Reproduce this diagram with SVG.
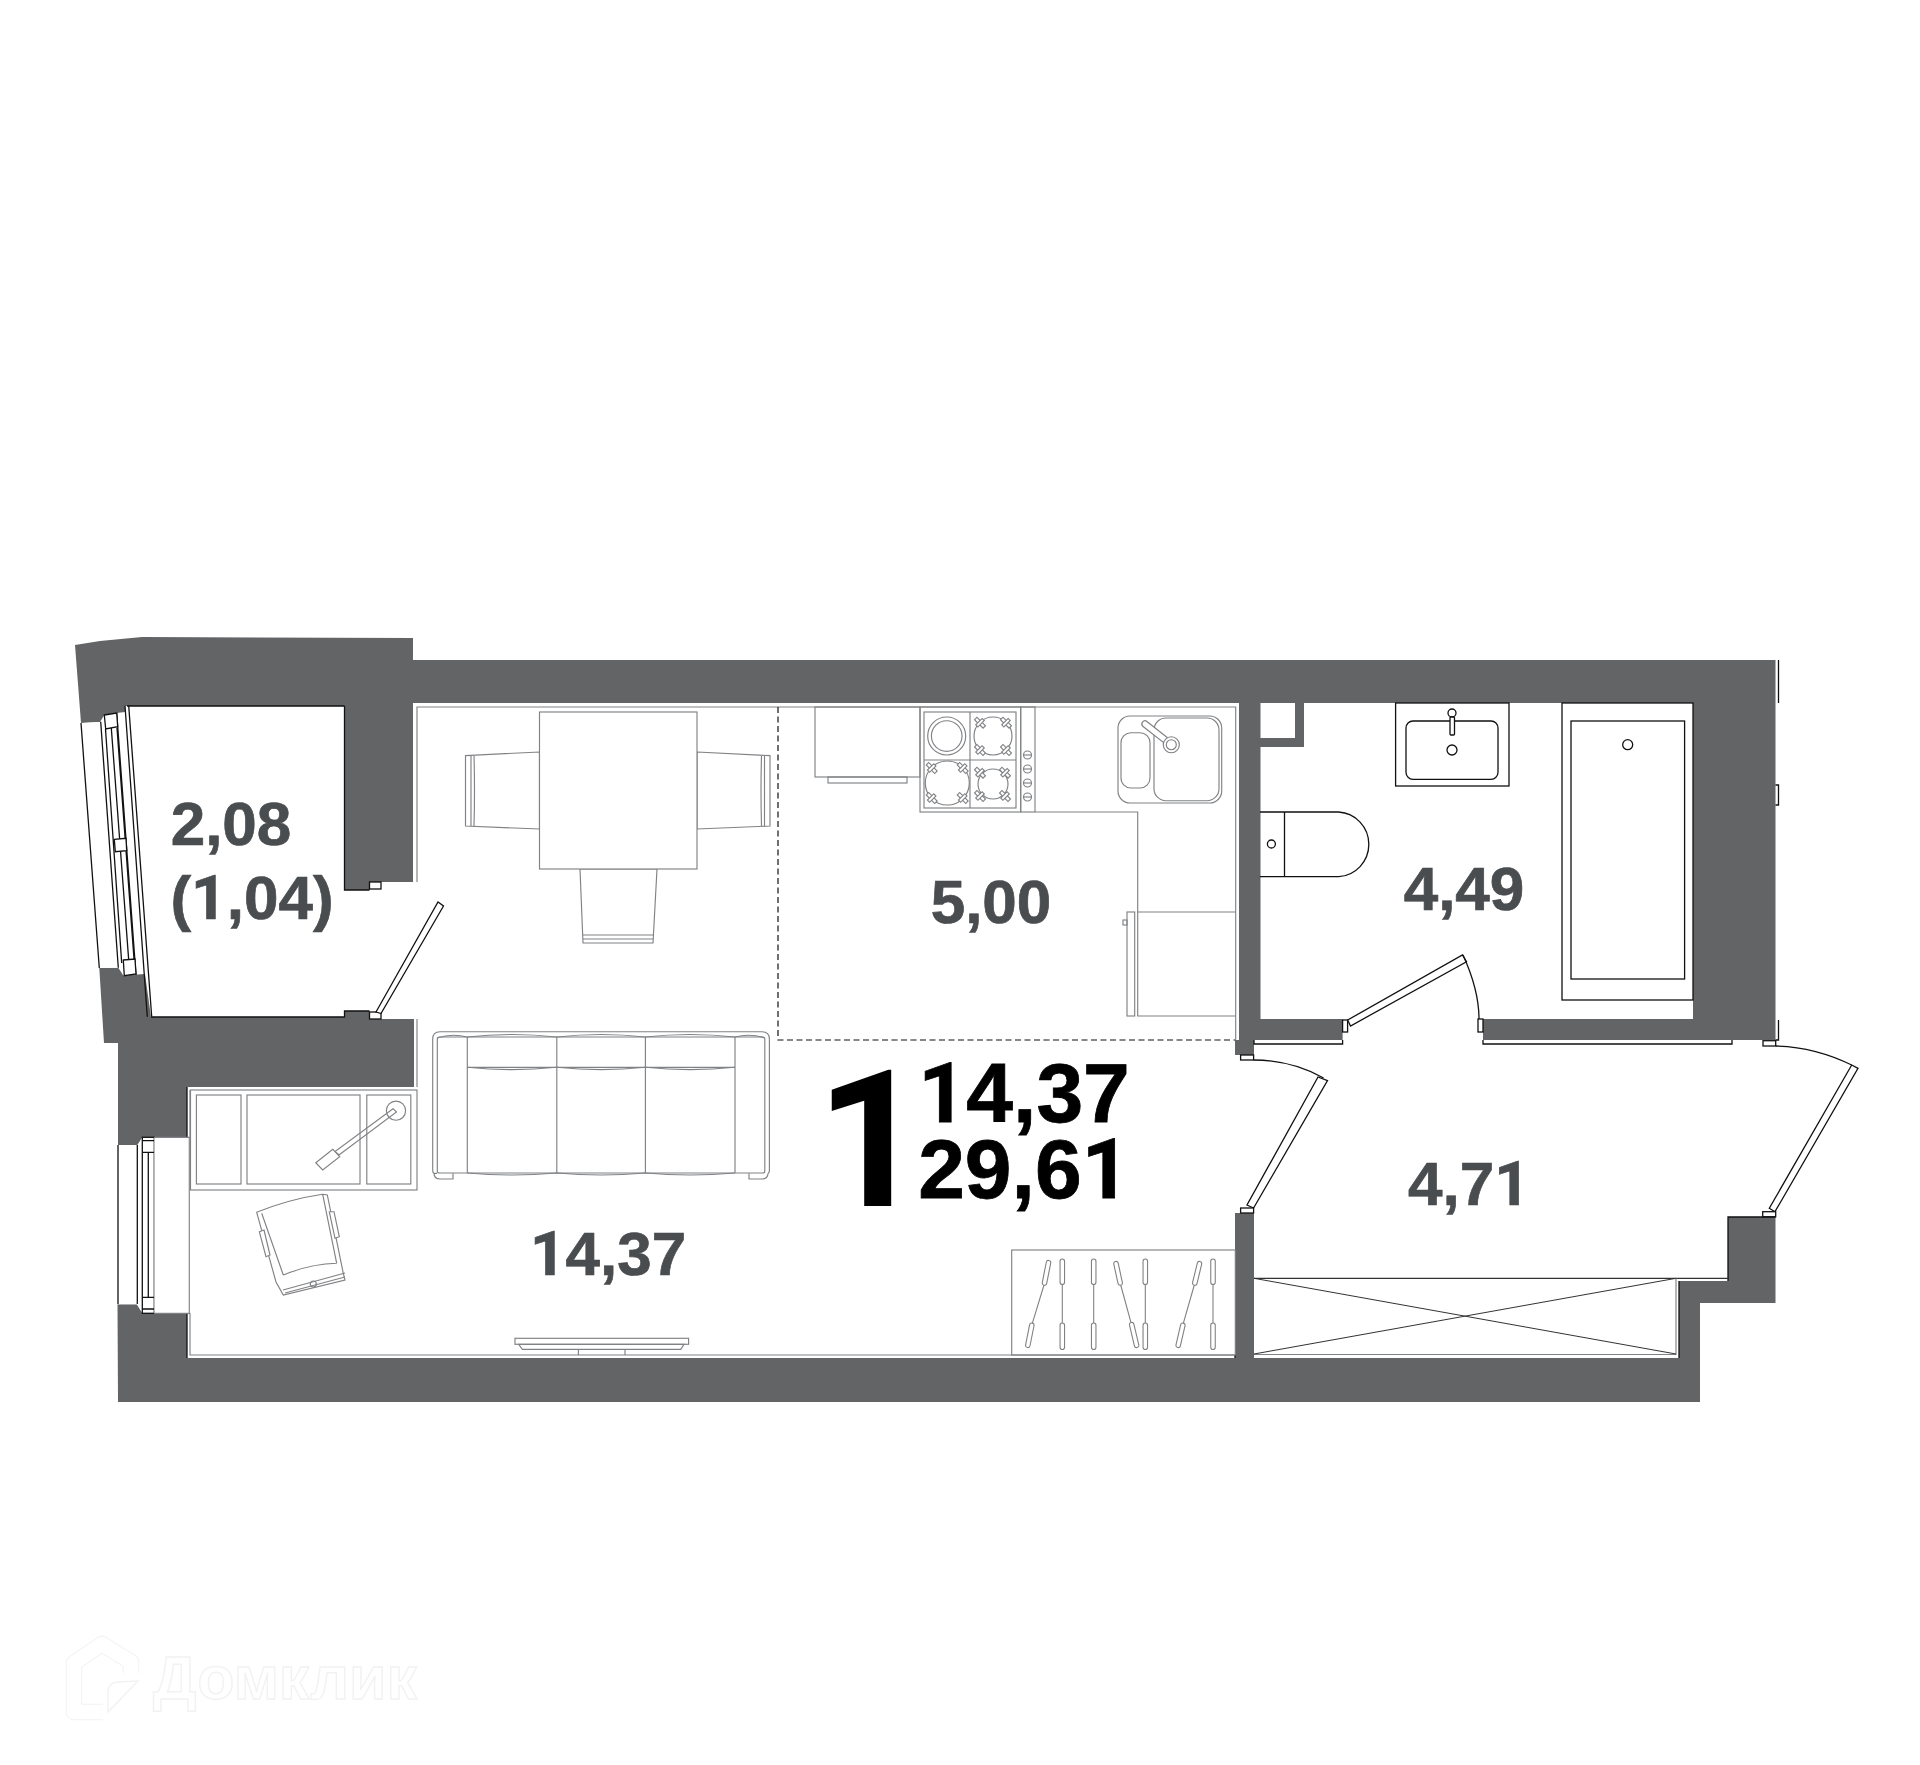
<svg xmlns="http://www.w3.org/2000/svg" width="1920" height="1765" viewBox="0 0 1920 1765">
<style>
.wall{fill:#636466;stroke:none}
.k{fill:none;stroke:#111;stroke-width:1.3}
.kw{fill:#fff;stroke:#111;stroke-width:1.3}
.g{fill:none;stroke:#808285;stroke-width:1.15}
.gw{fill:#fff;stroke:#808285;stroke-width:1.15}
.dash{fill:none;stroke:#111;stroke-width:1.2;stroke-dasharray:6 3.5}
.ho{fill:none;stroke:#808285;stroke-width:5.6;stroke-linecap:round}
.hi{fill:none;stroke:#fff;stroke-width:3.4;stroke-linecap:round}
.hl{fill:none;stroke:#808285;stroke-width:1.1}
text{font-family:"Liberation Sans",Arial,sans-serif;font-weight:700;text-anchor:middle}
.r{font-family:Roboto,"Liberation Sans",sans-serif}
.room{font-size:62px;fill:#4a4d4f;stroke:#4a4d4f;stroke-width:.7}
.sum{font-size:84px;fill:#000;stroke:#000;stroke-width:.8}
.wm{fill:#fff;stroke:#f2f2f2;stroke-width:1.4}
</style>
<defs>
<g id="x" class="g"><rect x="-6" y="-1.7" width="12" height="3.4" transform="rotate(45)" fill="#fff"/><rect x="-4.5" y="-1.5" width="9" height="3" transform="rotate(-45)" fill="#fff"/></g>
<g id="knob"><circle r="4" class="g"/><path d="M-4 0H4" class="g"/></g>
</defs>
<rect width="1920" height="1765" fill="#fff"/>

<g id="walls">
<polygon class="wall" points="75,645 100,641 142,637 413,638 413,660 1775.5,660 1775.5,1040 1483,1040 1483,1019 1693,1019 1693,703 1304,703 1304,747 1260.5,747 1260.5,1019 1342.6,1019 1342.6,1040 1254,1040 1254,1055 1235,1055 1235,1040 1239,1040 1239,703 413,703 413,882 369.5,882 369.5,890 344.5,890 344.5,706 125,706 125,712 116.7,713 104.3,715 100,722 81,723"/>
<polygon class="wall" points="99.3,968 118.3,967.7 123.3,975.5 145,974 151,1017 344.5,1017 344.5,1011 369.5,1011 369.5,1019 414,1019 414,1087 187,1087 187,1137.3 142.3,1137.3 137.3,1145 118,1145 118,1043 104,1043"/>
<polygon class="wall" points="117.5,1304.3 136.7,1304.3 142.3,1313.3 187,1313.3 187,1358 1235,1358 1235,1213 1254,1213 1254,1358 1679,1358 1679,1281 1728,1281 1728,1217 1775.5,1217 1775.5,1303 1700,1303 1700,1402 118,1402"/>
<rect x="1260.5" y="703" width="34.5" height="35" fill="#fff"/>
</g>

<g id="wall-lines">
<path class="k" d="M344.5 706H127M344.5 706V890H369.5M151 1017H344.5V1011H369.5"/>
<path class="g" d="M417 882V707H1235.7V1040M417 1019V1087M190 1090V1137M190 1313V1355H1235"/>
<path class="k" d="M187 1087V1137M187 1313V1358M1235 1355V1358"/>
<path class="k" d="M1254 1040V1044H1342.6V1040M1483 1040V1044H1732V1040M1778.5 660V703M1775.5 785H1778.5V805H1775.5M1778.5 1020V1040H1775.5M1728 1281V1217H1775.5M1679 1358V1281"/>
</g>

<g id="balcony-window">
<polygon points="81,723 100,722 118.3,967.7 99.3,968" fill="#fff"/>
<path class="k" d="M81 723L99.3 968M100.7 721.7L118.3 967.7M105.5 729L121.7 963M111.3 728L128.7 960M117 728L134 959M116.7 713L136 975M125 705.7L147.3 1016.7M128.7 705.7L151.7 1016.7"/>
<polygon class="kw" points="104.3,715 116.7,713 117.7,726.7 105.7,729"/>
<polygon class="kw" points="114.3,839.3 126,838.3 126.7,850.7 115.3,851.7"/>
<polygon class="kw" points="123.3,960 135,959 136,974 124.3,975.7"/>
</g>

<g id="room-window">
<rect x="118" y="1145" width="19.3" height="159.3" fill="#fff"/>
<path class="k" d="M118 1145V1304M137.3 1145V1304"/>
<rect class="kw" x="142.3" y="1137.3" width="12" height="176"/>
<path class="k" d="M142.3 1140.7H154.3M142.3 1152.3H154.3M142.3 1297.3H154.3M142.3 1309H154.3M148.3 1152.3V1297.3"/>
<rect x="154.3" y="1137.3" width="35" height="176" fill="#fff"/>
<path class="g" d="M154.3 1137.3H189.3V1313.3H154.3"/>
</g>

<g id="doors">
<rect class="kw" x="369.5" y="882" width="11.5" height="7"/>
<rect class="kw" x="369.5" y="1012" width="11.5" height="7"/>
<polygon class="kw" points="376,1012 381,1013.5 443.5,906 438,902"/>
<rect class="kw" x="1342.6" y="1020" width="5" height="12"/>
<polygon class="kw" points="1347.7,1020 1350.5,1026 1466.5,961.7 1462.5,955"/>
<path class="k" d="M1463 955Q1479 990 1479 1019"/>
<rect class="kw" x="1478" y="1019" width="5" height="13"/>
<rect class="kw" x="1240.6" y="1055" width="13" height="5"/>
<path class="k" d="M1253.6 1060Q1292 1060 1323.6 1078"/>
<polygon class="kw" points="1318,1077 1327.5,1080.7 1253.6,1208 1247,1205"/>
<rect class="kw" x="1240.6" y="1208" width="13" height="5"/>
<rect class="kw" x="1763" y="1040.7" width="12.7" height="5.3"/>
<path class="k" d="M1775.7 1046Q1815 1047 1851.7 1065"/>
<polygon class="kw" points="1851.7,1065 1858,1068.3 1775,1211.7 1769.3,1208.3"/>
<rect class="kw" x="1762.7" y="1211.7" width="13" height="5"/>
</g>

<g id="dining">
<polygon class="gw" points="465.5,755.6 539.5,752 539.5,829 465.5,826"/>
<path class="g" d="M471 755.6V826M474 756Q475 790 474 826"/>
<polygon class="gw" points="697,752 770,755.6 770,826 697,829"/>
<path class="g" d="M764.5 755.6V826M761.5 756Q760.5 790 761.5 826"/>
<polygon class="gw" points="580,869 657,869 653,943 583,943"/>
<path class="g" d="M583 935H653M583 939H653"/>
<rect class="gw" x="539.5" y="712" width="157.5" height="157"/>
</g>

<g id="kitchen">
<path class="dash" d="M778 707V1040H1235"/>
<rect class="g" x="815" y="707" width="105" height="70"/>
<rect class="g" x="828" y="777" width="79" height="6"/>
<rect class="g" x="920" y="707" width="100.7" height="105"/>
<rect class="g" x="924" y="712" width="92" height="96"/>
<path class="g" d="M970 712V808M924 760H1016"/>
<rect class="g" x="1020.7" y="707" width="14.3" height="105"/>
<use href="#knob" x="1027.5" y="755"/><use href="#knob" x="1027.5" y="769"/><use href="#knob" x="1027.5" y="783"/><use href="#knob" x="1027.5" y="797"/>
<circle class="g" cx="946.7" cy="736" r="19"/><circle class="g" cx="946.7" cy="736" r="15.3"/>
<circle class="g" cx="993" cy="736" r="19"/>
<use href="#x" x="980" y="722.7"/><use href="#x" x="1006" y="722.7"/><use href="#x" x="980" y="750"/><use href="#x" x="1006" y="750"/>
<circle class="g" cx="947.3" cy="783" r="22"/>
<use href="#x" x="931.7" y="768"/><use href="#x" x="962.7" y="768"/><use href="#x" x="931.7" y="798"/><use href="#x" x="962.7" y="798"/>
<circle class="g" cx="993" cy="784" r="15"/>
<use href="#x" x="980" y="772.7"/><use href="#x" x="1005" y="772.7"/><use href="#x" x="980" y="796"/><use href="#x" x="1005" y="796"/>
<path class="g" d="M1035 812H1137.7V912M1137.7 912H1235.7M1137.7 912V1016H1235.7"/>
<rect class="g" x="1127" y="912" width="7.7" height="104"/>
<rect class="g" x="1123" y="920" width="4" height="5"/>
<rect class="g" x="1118" y="716" width="103.7" height="87" rx="12"/>
<rect class="g" x="1121" y="732.7" width="29" height="55.3" rx="10"/>
<rect class="g" x="1154" y="718" width="65" height="82.7" rx="12"/>
<path d="M1145 724L1171.3 744.7" stroke="#808285" stroke-width="7.4" stroke-linecap="round" fill="none"/>
<path d="M1145 724L1171.3 744.7" stroke="#fff" stroke-width="5" stroke-linecap="round" fill="none"/>
<circle class="gw" cx="1171.3" cy="744.7" r="8"/><circle class="g" cx="1171.3" cy="744.7" r="5"/>
</g>

<g id="bathroom">
<rect class="k" x="1395.6" y="703" width="113.4" height="83"/>
<rect class="k" x="1406" y="721" width="92" height="58.3" rx="7"/>
<circle class="k" cx="1452" cy="750" r="5"/>
<circle class="kw" cx="1452" cy="713" r="4"/>
<rect class="kw" x="1450" y="717" width="4.5" height="18" rx="1"/>
<rect class="k" x="1562" y="703" width="131" height="297"/>
<rect class="k" x="1571" y="721" width="113.6" height="258"/>
<circle class="k" cx="1627.7" cy="744.7" r="5"/>
<path class="k" d="M1260 812H1338.6A32 32.4 0 0 1 1338.6 876.7H1260M1284.5 812V876.7"/>
<circle class="k" cx="1271.4" cy="844" r="4"/>
</g>

<g id="living">
<rect class="g" x="190.5" y="1090" width="226.5" height="100"/>
<rect class="g" x="196.4" y="1095" width="44.6" height="89"/>
<rect class="g" x="247" y="1095" width="113" height="89"/>
<rect class="g" x="366.8" y="1095" width="44" height="89"/>
<circle class="g" cx="396" cy="1110.7" r="9.6"/>
<polygon class="g" points="393,1108.7 396.5,1112 339,1155 335,1151.5"/>
<polygon class="gw" points="315.8,1162.7 332.8,1149.3 339.7,1156.7 322.7,1170"/>

<g id="office-chair">
<path class="g" d="M256.7 1212.3Q290 1199 322.7 1194.3L327.3 1195L343.3 1273.3L345 1280L283.3 1295L276 1282Z"/>
<path class="g" d="M261.7 1213.3L283.3 1275M322.7 1194.3L336.7 1263.3M283.3 1275Q310 1264 336.7 1263.3M283 1290L345 1273M285 1293L345 1277"/>
<polygon class="gw" points="259.3,1231.7 264,1230 270,1255 266,1256.7"/>
<polygon class="gw" points="329.3,1211.7 334,1211.7 339.3,1236.7 335,1238.3"/>
<circle class="g" cx="313.3" cy="1284" r="3"/>
</g>

<g id="sofa">
<path class="g" d="M437 1173.3H434Q432.7 1173 432.7 1170V1039Q432.7 1031.7 440 1031.7H762Q769.4 1031.7 769.4 1039V1170Q769.4 1173 768 1173.3"/>
<path class="g" d="M434 1173.3Q434 1179 440 1179H453V1173.3M768 1173.3Q768 1179 762 1179H749V1173.3"/>
<rect class="g" x="437.3" y="1037" width="327.5" height="136" rx="2"/>
<path class="g" d="M467.3 1037V1173M735 1037V1173M556.8 1037V1173M645.4 1037V1173M467.3 1067.3H735"/>
<path class="g" d="M437 1038Q452 1033 467 1037Q512 1032 556.8 1037Q601 1032 645.4 1037Q690 1032 735 1037Q750 1033 765 1038M467.3 1067.3Q512 1072 556.8 1067.3Q601 1072 645.4 1067.3Q690 1072 735 1067.3M467.3 1173Q512 1177 556.8 1173Q601 1177 645.4 1173Q690 1177 735 1173"/>
</g>

<g id="tv">
<rect class="g" x="515" y="1338.3" width="173.6" height="6"/>
<polygon class="g" points="518.7,1344.3 684,1344.3 680.8,1349.3 522.4,1349.3"/>
<path class="g" d="M578.4 1349.3V1355M625 1349.3V1355"/>
</g>
</g>

<g id="wardrobe">
<rect class="g" x="1011.7" y="1250" width="223.6" height="105"/>
<path class="hl" d="M1044 1285L1032.3 1323.3M1062.3 1284.3V1323.3M1093.7 1284.3V1323.3M1120.7 1285L1131 1322.7M1145.3 1284.3V1323.3M1194.3 1285L1183.3 1323.3M1213 1284.3V1323.3"/>
<path class="ho" d="M1048.5 1262.7L1044.5 1283M1031.8 1325.3L1027.8 1345.3M1062.3 1261.3V1282.3M1062.3 1325.3V1347.3M1093.7 1261.3V1282.3M1093.7 1325.3V1347.3M1116 1263.7L1120.2 1283M1131.7 1324.7L1136.6 1345.3M1145.3 1261.3V1282.3M1145.3 1325.3V1347.3M1199.5 1263.7L1194.8 1283M1182.8 1325.3L1178.2 1345.3M1213 1261.3V1282.3M1213 1325.3V1347.3"/>
<path class="hi" d="M1048.5 1262.7L1044.5 1283M1031.8 1325.3L1027.8 1345.3M1062.3 1261.3V1282.3M1062.3 1325.3V1347.3M1093.7 1261.3V1282.3M1093.7 1325.3V1347.3M1116 1263.7L1120.2 1283M1131.7 1324.7L1136.6 1345.3M1145.3 1261.3V1282.3M1145.3 1325.3V1347.3M1199.5 1263.7L1194.8 1283M1182.8 1325.3L1178.2 1345.3M1213 1261.3V1282.3M1213 1325.3V1347.3"/>
</g>

<g id="hall-cabinet">
<path d="M1254 1278.3H1728" fill="none" stroke="#333" stroke-width="1.2"/>
<path class="g" d="M1254 1354.5H1676V1278.3"/>
<path d="M1254 1278.3L1676 1354M1254 1354L1676 1278.3" fill="none" stroke="#333" stroke-width="1"/>
</g>

<g id="labels">
<text class="room" x="231" y="845">2,08</text>
<text class="room" x="252" y="919">(<tspan class="r">1</tspan>,04)</text>
<text class="room" x="991" y="923">5,00</text>
<text class="room" x="1464" y="910">4,49</text>
<text class="room" x="1469" y="1205">4,7<tspan class="r">1</tspan></text>
<text class="room" x="608" y="1275"><tspan class="r">1</tspan>4,37</text>
<text class="r" x="861" y="1206" style="font-size:192px;fill:#000;letter-spacing:-20px">1</text>
<text class="sum" x="1024" y="1121.5"><tspan class="r">1</tspan>4,37</text>
<text class="sum" x="1024" y="1197.5">29,6<tspan class="r">1</tspan></text>
</g>

<g id="watermark">
<path d="M103 1712H74V1663L102 1644L131 1662V1673" fill="none" stroke="#f2f2f2" stroke-width="16.5" stroke-linejoin="round"/>
<path d="M103 1712H74V1663L102 1644L131 1662V1673" fill="none" stroke="#fff" stroke-width="14.5" stroke-linejoin="round"/>
<path class="wm" d="M108 1712V1692Q108 1683 117 1682L138 1681Z"/>
<text class="wm" x="285" y="1699" style="font-size:61px">Домклик</text>
</g>
</svg>
